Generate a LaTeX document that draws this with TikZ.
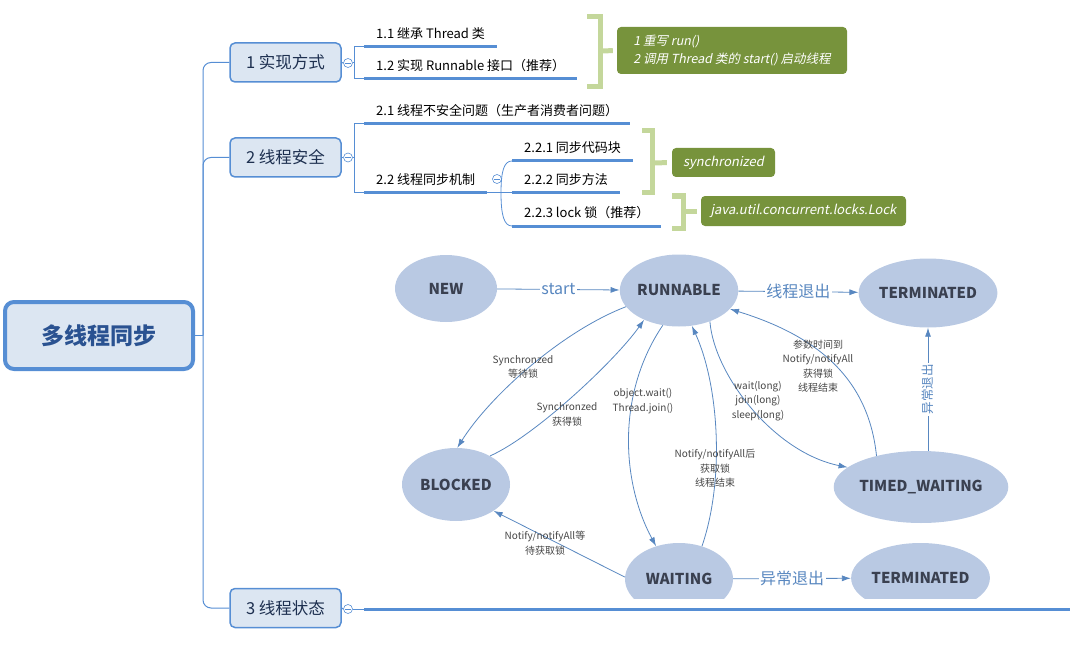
\documentclass[tikz,border=0pt]{standalone}
\usepackage{fontspec}
\setmainfont{Noto Sans CJK SC}
\newfontfamily\slantfont[FakeSlant=0.2]{Noto Sans CJK SC}
\usetikzlibrary{arrows.meta,shapes.geometric}

\definecolor{mapblue}{RGB}{86,142,212}
\definecolor{topicfill}{RGB}{220,230,242}
\definecolor{topictext}{RGB}{30,48,80}
\definecolor{roottext}{RGB}{42,82,145}
\definecolor{bracegreen}{RGB}{196,215,155}
\definecolor{notegreen}{RGB}{119,147,60}
\definecolor{statefill}{RGB}{185,201,227}
\definecolor{statetext}{RGB}{58,64,80}
\definecolor{flowblue}{RGB}{88,135,192}
\definecolor{labelgrey}{RGB}{70,70,70}

\begin{document}
\begin{tikzpicture}[x=1pt, y=-1pt,
    branch/.style={draw=mapblue, line width=1pt},
    uline/.style={draw=mapblue, line width=3pt},
    brace/.style={draw=bracegreen, line width=5pt, line join=miter},
    flow/.style={draw=flowblue, line width=0.8pt, -{Latex[length=9pt,width=6pt]}},
    tag/.style={fill=white, text=flowblue, inner sep=1.5pt, font=\fontsize{16}{18}\selectfont}]
\useasboundingbox (0,0) rectangle (1086,655);

    % topics
    \begin{scope}[every node/.style={draw=mapblue, fill=topicfill, rounded corners=5pt, line width=1.5pt, minimum width=111pt, minimum height=39pt, text=topictext, font=\fontsize{16.5}{18}\selectfont}]
        \node (t1) at (285.5,62.5) {1 实现方式};
        \node (t2) at (285.5,157.5) {2 线程安全};
        \node (t3) at (285.5,608) {3 线程状态};
        \node[line width=4pt, rounded corners=9pt, minimum width=188pt, minimum height=67pt, text=roottext, font=\fontsize{23}{26}\selectfont\bfseries] (root) at (99,335.5) {多线程同步};
    \end{scope}

    \begin{scope}[every node/.style={circle, draw=mapblue, fill=white, line width=0.6pt, minimum size=9pt, inner sep=0pt}]
        \node (c1) at (348,63) {};
        \node (c2) at (348,157.5) {};
        \node (c3) at (348,609) {};
        \node (c22) at (497,179) {};
    \end{scope}
    \foreach \c in {c1,c2,c3,c22}
        \draw[mapblue, line width=0.6pt] ([xshift=2pt]\c.west) -- ([xshift=-2pt]\c.east);

    % trunk
    \coordinate (trunk) at (203,335.5);
    \draw[branch] (root.east) -- (trunk);
    \draw[branch, rounded corners=8pt] (t1.west) -| (trunk) |- (t3.west);
    \draw[branch, rounded corners=8pt] (t2.west) -| (trunk);

    % children
    \begin{scope}[every node/.style={anchor=south west, inner xsep=12pt, inner ysep=6pt, text depth=2pt, font=\fontsize{13}{15}\selectfont}]
        \node (a11) at (364,47) {1.1 继承 Thread 类};
        \node (a12) at (364,79) {1.2 实现 Runnable 接口（推荐）};
        \node (a21) at (364,124) {2.1 线程不安全问题（生产者消费者问题）};
        \node (a22) at (364,193) {2.2 线程同步机制};
        \node (a221) at (512,161) {2.2.1 同步代码块};
        \node (a222) at (512,193) {2.2.2 同步方法};
        \node (a223) at (512,226) {2.2.3 lock 锁（推荐）};
    \end{scope}
    \foreach \n in {a11,a12,a21,a22,a221,a222,a223}
        \draw[uline] (\n.south west) -- (\n.south east);

    \draw[branch] (t1.east) -- (c1.west);
    \draw[branch] (c1.east) -- ++(2,0);
    \draw[branch] (a11.south west) -- ++(-10,0) |- (a12.south west);
    \draw[branch] (t2.east) -- (c2.west);
    \draw[branch] (c2.east) -- ++(2,0);
    \draw[branch] (a21.south west) -- ++(-10,0) |- (a22.south west);

    \coordinate (fork) at (501,193);
    \draw[branch] (a22.south east) -- (a222.south west);
    \draw[branch, line width=0.8pt] (fork) .. controls +(0,-22) and +(-8,0) .. (a221.south west);
    \draw[branch, line width=0.8pt] (fork) .. controls +(0,22) and +(-8,0) .. (a223.south west);

    \coordinate (img) at (364,609);
    \coordinate (imgend) at (1070,609);
    \draw[branch] (t3.east) -- (c3.west);
    \draw[branch] (c3.east) -- (img);
    \draw[uline] (img) -- (imgend);

    % notes
    \begin{scope}[every node/.style={fill=notegreen, rounded corners=4pt, text=white, font=\slantfont\fontsize{12.5}{18}\selectfont, inner sep=0pt}]
        \node[minimum width=230pt, minimum height=47pt, align=left] (n1) at (732,50.5) {1 重写 run()\\2 调用 Thread 类的 start() 启动线程};
        \node[minimum width=103pt, minimum height=29pt, font=\slantfont\fontsize{13}{15}\selectfont] (n2) at (723.5,162.5) {synchronized};
        \node[minimum width=205pt, minimum height=30pt, font=\slantfont\fontsize{13}{15}\selectfont] (n3) at (803.5,211) {java.util.concurrent.locks.Lock};
    \end{scope}
    \draw[brace] (587,17) -| (600,87) -- (587,87);
    \draw[brace, shorten >=4pt] (600,51) -- (n1.west);
    \draw[brace] (642,131) -| (652,193) -- (642,193);
    \draw[brace, shorten >=5pt] (652,163) -- (n2.west);
    \draw[brace] (672,196) -| (683,228) -- (672,228);
    \draw[brace, shorten >=4pt] (683,211) -- (n3.west);

    % thread states
    \begin{scope}
        \clip (380,240) rectangle (1010,598);
        \begin{scope}[every node/.style={ellipse, fill=statefill, inner sep=0pt, text=statetext, font=\fontsize{15}{17}\selectfont\bfseries}]
            \node[minimum width=102pt, minimum height=67pt] (new) at (446,288.5) {NEW};
            \node[minimum width=110pt, minimum height=72pt] (run) at (679,290.5) {RUNNABLE};
            \node[minimum width=136pt, minimum height=69pt] (term) at (928,293) {TERMINATED};
            \node[minimum width=108pt, minimum height=73pt] (blk) at (456,484.5) {BLOCKED};
            \node[minimum width=162pt, minimum height=72pt] (tim) at (921,487) {TIMED\_WAITING};
            \node[minimum width=108pt, minimum height=72pt] (wait) at (679,579) {WAITING};
            \node[minimum width=135pt, minimum height=70pt] (term2) at (920.5,578) {TERMINATED};
        \end{scope}
    \end{scope}

    \draw[flow] (new) -- (run) node[tag, midway] {start};
    \draw[flow] (run) -- (term) node[tag, midway] {线程退出};
    \draw[flow] (wait) -- (term2) node[tag, midway] {异常退出};
    \draw[flow] (tim.north -| term.south) -- (term.south) node[tag, midway, rotate=90, font=\fontsize{12.5}{14}\selectfont] {异常退出};
    \draw[flow] (run.197) .. controls +(-65,25) and +(32,-51) .. (blk.88);
    \draw[flow] (blk.40) .. controls +(45,-20) and +(-29,41) .. (run.220);
    \draw[flow] (run.245) .. controls +(-46,68) and +(-35,-65) .. (wait.125);
    \draw[flow] (wait.55) .. controls +(23,-67) and +(27,59) .. (run.290);
    \draw[flow] (run.315) .. controls +(4,53) and +(-74,-15) .. (tim.165);
    \draw[flow] (tim.145) .. controls +(-8,-77) and +(88,27) .. (run.340);
    \draw[flow] (wait.178) -- (blk.325);

    \begin{scope}[every node/.style={text=labelgrey, align=center, font=\fontsize{10}{14.5}\selectfont}]
        \node (l1) at (523,367) {Synchronzed\\等待锁};
        \node (l2) at (567,414.5) {Synchronzed\\获得锁};
        \node (l3) at (643,401) {object.wait()\\Thread.join()};
        \node (l4) at (715,468.5) {Notify/notifyAll后\\获取锁\\线程结束};
        \node (l5) at (758,401) {wait(long)\\join(long)\\sleep(long)};
        \node (l6) at (818,366) {参数时间到\\Notify/notifyAll\\获得锁\\线程结束};
        \node (l7) at (545,543) {Notify/notifyAll等\\待获取锁};
    \end{scope}
\end{tikzpicture}
\end{document}
